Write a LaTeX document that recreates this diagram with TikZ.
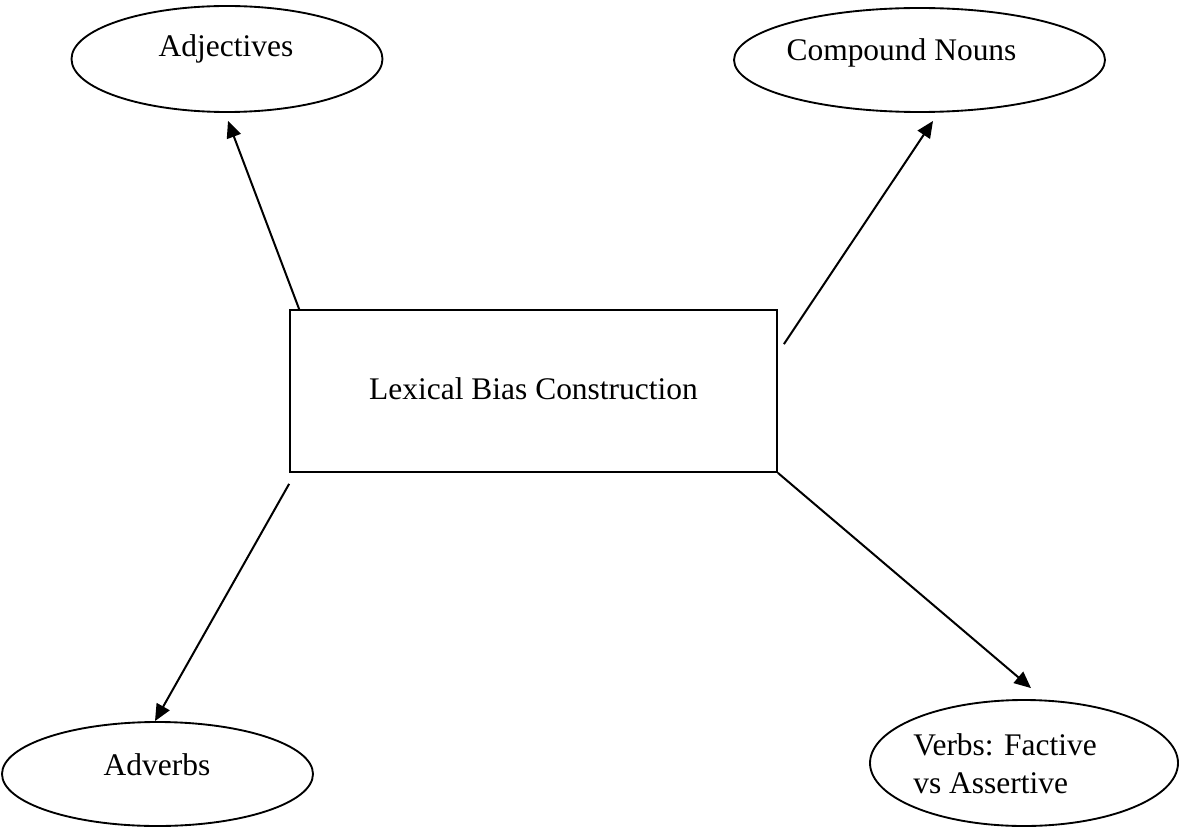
\documentclass[tikz,border=0pt]{standalone}
\usepackage{fontspec}
\setmainfont{Liberation Serif}
\usetikzlibrary{arrows.meta,shapes.geometric,calc}
\begin{document}
\begin{tikzpicture}[x=0.75pt,y=-0.75pt,
  bubble/.style={draw,ellipse,line width=1.4pt,inner sep=0pt},
  hub/.style={draw,rectangle,line width=1.3pt,inner sep=0pt},
  caption/.style={font=\fontsize{23.6pt}{28.5pt}\selectfont,inner sep=0pt},
  link/.style={line width=1.5pt,-{Triangle[length=12.5pt,width=11pt]}}]
\useasboundingbox (0,0) rectangle (1180,827);

% category bubbles
\node[bubble,minimum width=233.25pt,minimum height=79.5pt] (adj) at (227,59) {};
\node[bubble,minimum width=278.25pt,minimum height=78pt] (cn) at (919.5,60) {};
\node[bubble,minimum width=233.25pt,minimum height=78pt] (adv) at (157.5,774) {};
\node[bubble,minimum width=231pt,minimum height=94.5pt] (vb) at (1024,763) {};

% central box
\node[hub,minimum width=365.25pt,minimum height=121.5pt] (box) at (533.5,391) {};

% labels
\node[caption,anchor=base] (adjtext) at (226,57) {Adjectives};
\node[caption,anchor=base] (cntext) at (901.5,61) {Compound Nouns};
\node[caption,anchor=base] (boxtext) at (533.5,399) {Lexical Bias Construction};
\node[caption,anchor=base] (advtext) at (157,775) {Adverbs};
\node[caption,anchor=base west,align=left] (vbtext) at (913,793) {Verbs: Factive\\vs Assertive};

% connectors
\draw[link] ($(box.north west)+(10,0)$) -- ($(adj.south)+(1,8)$);
\draw[link] ($(box.north east)+(6,35)$) -- ($(cn.south)+(13.5,8)$);
\draw[link] ($(box.south west)+(0,11)$) -- ($(adv.north)+(-2.5,0)$);
\draw[link] (box.south east) -- ($(vb.north)+(7,-11)$);
\end{tikzpicture}
\end{document}
